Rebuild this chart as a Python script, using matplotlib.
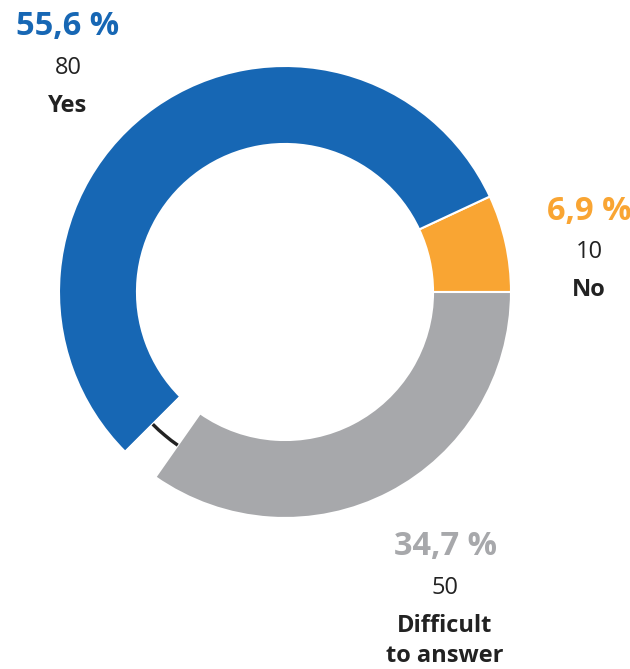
import matplotlib
matplotlib.use("Agg")
import matplotlib.pyplot as plt

categories = ["No", "Yes", "No answer", "Difficult to answer"]
label_lines = ["No", "Yes", "", "Difficult\nto answer"]
counts = [10, 80, 4, 50]
percents = ["6,9 %", "55,6 %", "", "34,7 %"]

colors = ["#F9A533", "#1767B4", "#FFFFFF", "#A7A8AB"]
text_colors = ["#F9A533", "#1767B4", "#FFFFFF", "#A7A8AB"]

plt.rcParams['font.family'] = ['Open Sans', 'DejaVu Sans']

W, H, DPI = 630, 669, 100
fig = plt.figure(figsize=(W / DPI, H / DPI), dpi=DPI)
ax = fig.add_axes([0, 0, 1, 1])

ax.pie(counts, colors=colors, startangle=0, counterclock=True, radius=1.0,
       wedgeprops=dict(width=0.345, edgecolor='white', linewidth=1.5))

# thin dark connector drawn in the gap slice
line_colors = ["none", "none", "#222222", "none"]
ax.pie(counts, colors=line_colors, startangle=0, counterclock=True, radius=0.835,
       wedgeprops=dict(width=0.015, edgecolor='none', linewidth=0))

cx, cy, R = 285, 292, 226.0
ax.set_xlim(-cx / R, (W - cx) / R)
ax.set_ylim(-(H - cy) / R, cy / R)
ax.set_aspect('equal')
ax.axis('off')

# label anchors in pixels: (x center, baseline of percent text)
pos = {0: (589, 220), 1: (68, 35), 3: (445, 555)}
dark = "#222222"
for i, (x, y) in pos.items():
    fig.text(x / W, 1 - y / H, percents[i], ha='center', va='baseline',
             fontsize=23.5, fontweight='bold', color=text_colors[i])
    fig.text(x / W, 1 - (y + 38.5) / H, str(counts[i]), ha='center', va='baseline',
             fontsize=17, color=dark)
    for k, line in enumerate(label_lines[i].split("\n")):
        fig.text(x / W, 1 - (y + 76.5 + 30 * k) / H, line, ha='center', va='baseline',
                 fontsize=17, fontweight='bold', color=dark)

fig.savefig("out.png", dpi=DPI)
